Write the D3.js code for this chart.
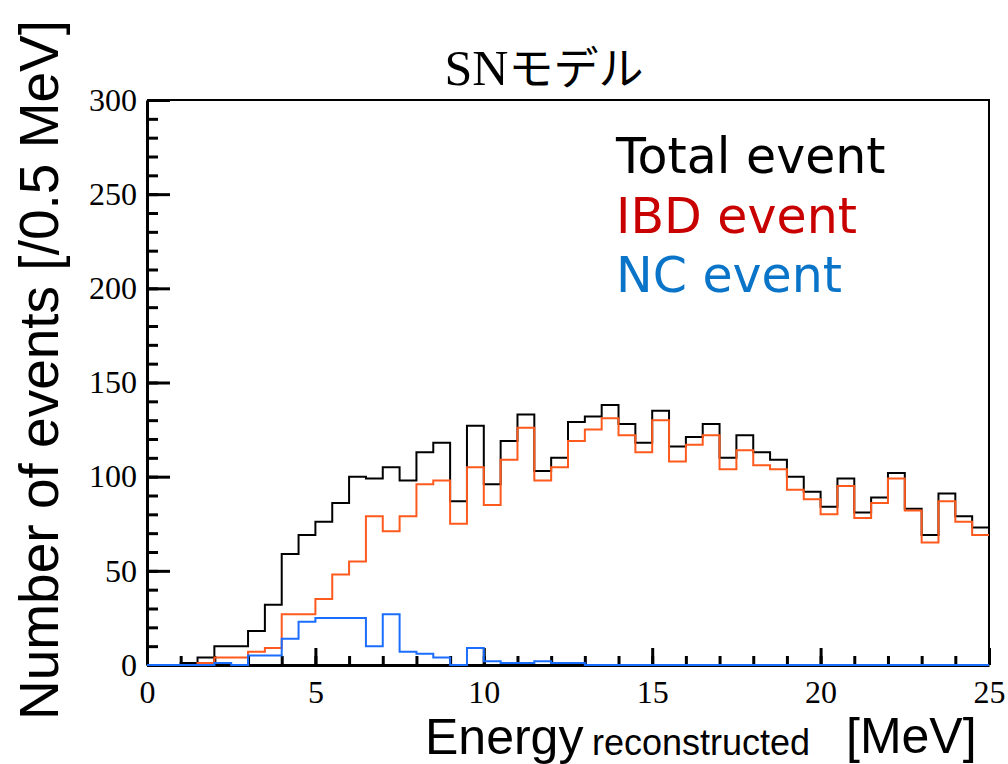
<!DOCTYPE html>
<html>
<head>
<meta charset="utf-8">
<script src="https://cdn.jsdelivr.net/npm/d3@7"></script>
<style>
  body { margin: 0; background: #fff; }
  svg { display: block; }
</style>
</head>
<body>
<div id="chart"></div>
<script>
// bin lower edges, 0.5 MeV wide
const binEdges = d3.range(0, 25, 0.5);

const totalCounts = [0, 0, 1, 4, 10, 10, 18, 32, 59, 69,
  76, 86, 100, 99, 105, 98, 113, 118, 87, 127,
  96, 119, 133, 103, 110, 129, 132, 138, 128, 118,
  135, 116, 121, 128, 110, 122, 113, 109, 100, 92,
  84, 99, 81, 89, 102, 83, 69, 91, 79, 73];

const ibdCounts = [0, 0, 0, 1, 4, 4, 7, 9, 27, 27,
  35, 48, 55, 79, 71, 79, 96, 98, 75, 105,
  85, 109, 126, 98, 105, 119, 125, 131, 122, 113,
  130, 108, 117, 122, 104, 114, 106, 104, 93, 88,
  80, 95, 78, 86, 99, 82, 65, 87, 76, 69];

const ncCounts = [0, 0, 0, 0, 1, 0, 5, 5, 14, 23,
  25, 25, 25, 10, 27, 7, 6, 4, 0, 9,
  2, 1, 1, 2, 1, 1, 0, 0, 0, 0,
  0, 0, 0, 0, 0, 0, 0, 0, 0, 0,
  0, 0, 0, 0, 0, 0, 0, 0, 0, 0];

const xMajorTicks = [0, 5, 10, 15, 20, 25];
const yMajorTicks = [0, 50, 100, 150, 200, 250, 300];
const legendLabels = ['Total event', 'IBD event', 'NC event'];

const W = 1008, H = 764;
const margin = {left: 147, right: 19, top: 100, bottom: 99};
const width = W - margin.left - margin.right,
  height = H - margin.top - margin.bottom;

const svg = d3.select('#chart').append('svg')
  .attr('width', W)
  .attr('height', H);

const g = svg.append('g')
  .attr('transform', `translate(${margin.left},${margin.top})`);

const x = d3.scaleLinear().domain([0, 25]).range([0, width]);
const y = d3.scaleLinear().domain([0, 300]).range([height, 0]);

const serif = '"Liberation Serif", "Times New Roman", serif';

// frame (top and right)
g.append('path')
  .attr('d', `M0,0H${width}V${height}`)
  .attr('fill', 'none')
  .attr('stroke', '#000')
  .attr('stroke-width', 2);

// minor ticks
g.append('g')
  .call(d3.axisLeft(y).tickValues(d3.range(0, 301, 10)).tickSize(-11).tickFormat(''))
  .call(a => a.select('.domain').remove())
  .selectAll('line').attr('stroke-width', 3);

g.append('g')
  .attr('transform', `translate(0,${height})`)
  .call(d3.axisBottom(x).tickValues(d3.range(0, 26, 1)).tickSize(-9).tickFormat(''))
  .call(a => a.select('.domain').remove())
  .selectAll('line').attr('stroke-width', 3);

// major ticks + labels
const yAx = g.append('g')
  .call(d3.axisLeft(y).tickValues(yMajorTicks).tickSize(-23).tickSizeOuter(0).tickPadding(10));
yAx.select('.domain').attr('stroke-width', 3);
yAx.selectAll('line').attr('stroke-width', 3);
yAx.selectAll('text')
  .style('font-family', serif)
  .style('font-size', '32px')
  .attr('fill', '#000');

const xAx = g.append('g')
  .attr('transform', `translate(0,${height})`)
  .call(d3.axisBottom(x).tickValues(xMajorTicks).tickSize(-17).tickSizeOuter(0).tickPadding(15));
xAx.select('.domain').attr('stroke-width', 3);
xAx.selectAll('line').attr('stroke-width', 3);
xAx.selectAll('text')
  .style('font-family', serif)
  .style('font-size', '32px')
  .attr('fill', '#000');

// histograms
const step = d3.line()
  .x(d => x(d[0]))
  .y(d => y(d[1]))
  .curve(d3.curveStepAfter);

const toSteps = (counts) => {
  const pts = binEdges.map((e, i) => [e, counts[i]]);
  pts.push([25, counts[counts.length - 1]]);
  return pts;
};

const series = [
  {counts: totalCounts, color: '#000000'},
  {counts: ibdCounts, color: '#ff5a1e'},
  {counts: ncCounts, color: '#1a6dff'}
];

g.selectAll('.hist')
  .data(series)
  .enter()
  .append('path')
  .attr('class', 'hist')
  .attr('d', d => step(toSteps(d.counts)))
  .attr('fill', 'none')
  .attr('stroke', d => d.color)
  .attr('stroke-width', 2);

// title
svg.append('text')
  .attr('x', 544)
  .attr('y', 85)
  .attr('text-anchor', 'middle')
  .style('font-family', serif)
  .style('font-size', '50px')
  .text('SN')
  .append('tspan')
  .style('font-family', '"Noto Sans CJK JP", sans-serif')
  .style('font-size', '45px')
  .text('モデル');

// legend
const legendColors = ['#000000', '#c80000', '#0a74c8'];
svg.selectAll('.legend')
  .data(legendLabels)
  .enter()
  .append('text')
  .attr('class', 'legend')
  .attr('x', 616)
  .attr('y', (d, i) => 173 + i * 59.5)
  .attr('fill', (d, i) => legendColors[i])
  .style('font-family', '"DejaVu Sans", sans-serif')
  .style('font-size', '49px')
  .text(d => d);

// axis titles
svg.append('text')
  .attr('transform', 'translate(58,720) rotate(-90)')
  .style('font-family', '"Liberation Sans", Arial, sans-serif')
  .style('font-size', '55px')
  .text('Number of events [/0.5 MeV]');

const xt = svg.append('text')
  .attr('x', 425)
  .attr('y', 754)
  .style('font-family', '"Liberation Sans", Arial, sans-serif')
  .style('font-size', '50px');
xt.append('tspan').text('Energy');
xt.append('tspan')
  .attr('x', 592)
  .attr('y', 755)
  .style('font-size', '36px')
  .text('reconstructed');
xt.append('tspan')
  .attr('x', 846)
  .attr('y', 753)
  .text('[MeV]');
</script>
</body>
</html>
